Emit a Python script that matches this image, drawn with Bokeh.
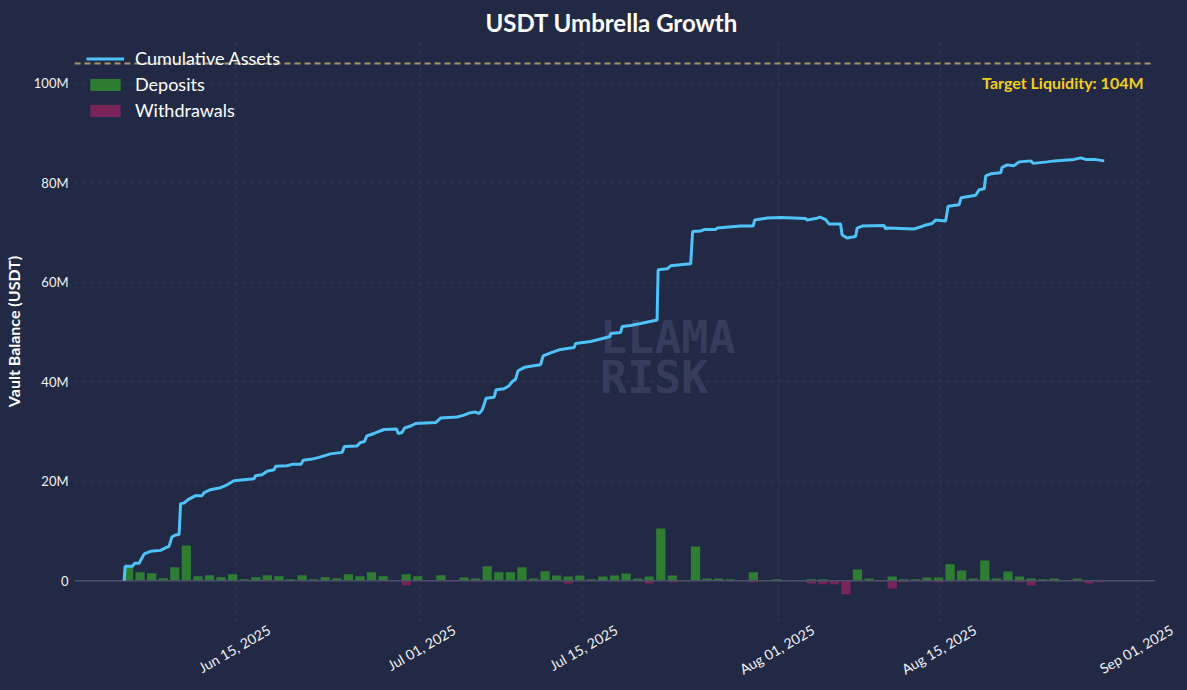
import pandas as pd
from math import pi
from bokeh.plotting import figure
from bokeh.models import Range1d, FixedTicker, Label, Legend, LegendItem
from bokeh.embed import file_html
from bokeh.resources import INLINE

# ---------------- data ----------------
title_text = "USDT Umbrella Growth"
y_axis_title = "Vault Balance (USDT)"
target_liquidity = 104  # millions
target_label = "Target Liquidity: 104M"

line_times = [
    "2025-06-05 10:00", "2025-06-05 12:00", "2025-06-06 03:00", "2025-06-06 07:30", "2025-06-06 17:00",
    "2025-06-07 03:00", "2025-06-07 06:00", "2025-06-07 17:00", "2025-06-08 13:30", "2025-06-08 23:45",
    "2025-06-09 07:00", "2025-06-09 13:00", "2025-06-09 20:30", "2025-06-10 04:00", "2025-06-10 07:00",
    "2025-06-10 14:00", "2025-06-10 22:30", "2025-06-11 14:00", "2025-06-12 03:30", "2025-06-12 07:45",
    "2025-06-12 21:00", "2025-06-13 18:00", "2025-06-14 04:00", "2025-06-14 21:50", "2025-06-15 18:30",
    "2025-06-16 15:20", "2025-06-16 18:30", "2025-06-17 08:00", "2025-06-17 18:30", "2025-06-18 09:00",
    "2025-06-18 12:00", "2025-06-19 11:45", "2025-06-19 22:20", "2025-06-20 16:50", "2025-06-20 21:00",
    "2025-06-21 12:40", "2025-06-22 06:15", "2025-06-23 06:00", "2025-06-24 06:00", "2025-06-24 11:00",
    "2025-06-25 13:00", "2025-06-25 20:25", "2025-06-26 04:30", "2025-06-26 09:00", "2025-06-27 00:15",
    "2025-06-27 21:00", "2025-06-28 23:00", "2025-06-29 02:10", "2025-06-29 10:20", "2025-06-29 15:35",
    "2025-06-30 04:05", "2025-06-30 14:25", "2025-07-02 08:00", "2025-07-02 18:15", "2025-07-04 04:30",
    "2025-07-04 19:00", "2025-07-05 05:15", "2025-07-05 19:00", "2025-07-06 02:10", "2025-07-06 08:25",
    "2025-07-06 12:30", "2025-07-06 16:35", "2025-07-07 09:20", "2025-07-07 13:25", "2025-07-08 06:00",
    "2025-07-08 16:20", "2025-07-08 22:30", "2025-07-09 05:45", "2025-07-09 11:00", "2025-07-10 00:30",
    "2025-07-10 13:00", "2025-07-11 09:35", "2025-07-11 14:55", "2025-07-12 06:30", "2025-07-13 03:10",
    "2025-07-14 07:10", "2025-07-14 10:20", "2025-07-15 17:30", "2025-07-16 14:10", "2025-07-17 09:50",
    "2025-07-17 10:50", "2025-07-18 07:40", "2025-07-18 10:50", "2025-07-19 04:20", "2025-07-20 01:10",
    "2025-07-21 11:15", "2025-07-21 13:25", "2025-07-22 08:10", "2025-07-22 15:20", "2025-07-24 08:55",
    "2025-07-24 13:00", "2025-07-25 05:30", "2025-07-25 12:55", "2025-07-26 12:45", "2025-07-26 15:50",
    "2025-07-28 16:35", "2025-07-29 18:30", "2025-07-29 21:35", "2025-07-30 23:30", "2025-08-01 03:35",
    "2025-08-03 07:25", "2025-08-03 10:35", "2025-08-04 04:05", "2025-08-04 13:25", "2025-08-05 01:00",
    "2025-08-05 08:10", "2025-08-06 07:55", "2025-08-06 11:00", "2025-08-06 21:20", "2025-08-07 15:05",
    "2025-08-07 18:15", "2025-08-08 04:35", "2025-08-10 02:10", "2025-08-10 05:15", "2025-08-10 08:25",
    "2025-08-12 16:35", "2025-08-13 13:10", "2025-08-14 05:45", "2025-08-14 12:55", "2025-08-15 09:50",
    "2025-08-15 14:50", "2025-08-16 13:40", "2025-08-16 18:00", "2025-08-18 00:00", "2025-08-18 07:10",
    "2025-08-18 17:45", "2025-08-18 20:55", "2025-08-19 07:10", "2025-08-20 03:50", "2025-08-20 06:55",
    "2025-08-20 17:15", "2025-08-21 06:55", "2025-08-21 18:15", "2025-08-22 18:15", "2025-08-22 23:30",
    "2025-08-24 04:20", "2025-08-24 19:00", "2025-08-26 12:30", "2025-08-27 01:55", "2025-08-27 12:15",
    "2025-08-28 05:45", "2025-08-29 02:40",
]
line_values = [  # millions USDT
    0.0, 2.9, 2.9, 3.5, 3.5, 5.3, 5.5, 5.9, 6.1, 6.6,
    6.9, 8.8, 9.2, 9.3, 15.5, 15.6, 16.3, 17.1, 17.1, 17.7,
    18.3, 18.7, 19.1, 20.1, 20.3, 20.5, 21.1, 21.3, 22.0, 22.3,
    23.0, 23.1, 23.4, 23.4, 24.2, 24.4, 24.8, 25.5, 25.8, 27.0,
    27.1, 27.8, 28.0, 29.1, 29.6, 30.4, 30.5, 29.6, 29.8, 30.7,
    31.1, 31.6, 31.8, 32.7, 32.9, 33.3, 33.7, 33.9, 33.6, 34.3,
    35.4, 36.7, 36.9, 38.4, 38.6, 39.2, 40.0, 40.5, 42.2, 42.9,
    43.1, 43.4, 45.2, 45.8, 46.5, 46.9, 47.7, 48.1, 48.6, 49.1,
    49.7, 49.9, 51.1, 51.3, 51.7, 52.4, 62.5, 62.7, 63.3, 63.7,
    70.2, 70.3, 70.6, 70.6, 70.9, 71.3, 71.3, 72.5, 72.9, 73.0,
    72.8, 72.5, 72.8, 73.1, 72.6, 71.7, 71.7, 69.5, 68.9, 69.2,
    70.9, 71.3, 71.4, 70.7, 70.9, 70.7, 71.4, 71.8, 72.5, 72.3,
    75.3, 75.6, 77.0, 77.5, 78.6, 78.8, 81.4, 81.8, 82.0, 83.1,
    83.6, 83.4, 84.2, 84.4, 83.9, 84.2, 84.4, 84.7, 85.0, 84.7,
    84.7, 84.4,
]

bar_first_day = "2025-06-06"
deposits = [  # millions USDT, one per day
    2.9, 1.7, 1.5, 0.5, 2.7, 7.1, 0.9, 1.1, 0.7, 1.3,
    0.3, 0.7, 1.1, 0.9, 0.3, 1.1, 0.3, 0.7, 0.5, 1.3,
    0.9, 1.7, 0.9, 0.0, 1.3, 0.9, 0.0, 1.1, 0.0, 0.67,
    0.47, 2.9, 1.7, 1.7, 2.7, 0.47, 1.9, 1.07, 0.87, 1.07,
    0.27, 0.87, 1.07, 1.47, 0.47, 0.87, 10.5, 1.07, 0.0, 6.9,
    0.47, 0.47, 0.27, 0.0, 1.7, 0.0, 0.27, 0.0, 0.0, 0.27,
    0.27, 0.0, 0.0, 2.27, 0.47, 0.0, 0.87, 0.27, 0.27, 0.67,
    0.67, 3.3, 2.07, 0.47, 4.07, 0.47, 1.87, 0.87, 0.47, 0.27,
    0.47, 0.0, 0.47, 0.0, 0.0,
]
withdrawals = [  # millions USDT, one per day
    0, 0, 0, 0, 0, 0, 0, 0, 0, 0,
    0, 0, 0, 0, 0, 0, 0, 0, 0, 0,
    0, 0, -0.12, 0, -0.9, 0, 0, -0.12, -0.12, 0,
    -0.12, 0, 0, 0, 0, 0, 0, 0, -0.54, 0,
    0, 0, 0, 0, -0.12, -0.54, -0.12, -0.33, -0.12, 0,
    0, -0.12, 0, 0, -0.33, 0, -0.12, -0.12, -0.12, -0.54,
    -0.73, -0.73, -2.74, 0, -0.12, -0.12, -1.54, -0.33, -0.12, 0,
    -0.33, -0.12, -0.12, -0.12, -0.12, -0.12, -0.12, -0.33, -0.94, 0,
    -0.12, 0, -0.12, -0.54, -0.33,
]

x_ticks = ["2025-06-15", "2025-07-01", "2025-07-15", "2025-08-01", "2025-08-15", "2025-09-01"]
x_tick_labels = ["Jun 15, 2025", "Jul 01, 2025", "Jul 15, 2025", "Aug 01, 2025", "Aug 15, 2025", "Sep 01, 2025"]
y_ticks = [0, 20, 40, 60, 80, 100]
y_tick_labels = ["0", "20M", "40M", "60M", "80M", "100M"]

# ---------------- styling ----------------
BG = "#222944"
GRID = "#2f3759"
FONT = "Lato"
LINE_C = "#4fc3f7"
DEP_C = "#2e7d32"
WD_C = "#782459"

DAY = 86400000
to_ms = lambda t: int(pd.Timestamp(t).value // 1_000_000)

x_start = to_ms("2025-06-01 03:00")
x_vis_end = to_ms("2025-09-02 09:00")          # visible right edge of the plotting area
x_end = x_vis_end + int(2.5 * DAY)             # extra room so the last rotated label can be drawn
y_start, y_end = -8.4, 108.6

p = figure(width=1187, height=690, x_axis_type="datetime", output_backend="svg",
           toolbar_location=None,
           x_range=Range1d(x_start, x_end), y_range=Range1d(y_start, y_end),
           min_border_left=74, min_border_right=5, min_border_top=40, min_border_bottom=68)
p.background_fill_color = BG
p.border_fill_color = BG
for name in p.properties():
    if name.endswith("line_color") and ("outline" in name or "border" in name):
        setattr(p, name, None)
    if name.endswith("line_alpha") and ("outline" in name or "border" in name):
        setattr(p, name, 0)

p.title.text = title_text
p.title.align = "left"
p.title.offset = 539 - 128   # centre over the visible plotting area
p.title.text_font = FONT
p.title.text_font_size = "24px"
p.title.text_font_style = "bold"
p.title.text_color = "#ffffff"
p.title.vertical_align = "middle"
p.title.standoff = 6

# x axis: rotated labels are anchored at their right end, so the label ticks sit a
# little to the right of the true ticks to centre each label on its grid line
tick_ms = [to_ms(t) for t in x_ticks]
label_shift = int(2.94 * DAY)
label_ms = [t + label_shift for t in tick_ms]
xax = p.xaxis[0]
xax.ticker = FixedTicker(ticks=label_ms)
xax.major_label_overrides = {t: s for t, s in zip(label_ms, x_tick_labels)}
xax.major_label_orientation = pi / 6
xax.axis_line_color = None
xax.major_tick_line_color = None
xax.minor_tick_line_color = None
xax.major_tick_out = 0
xax.major_tick_in = 0
xax.major_label_standoff = 6
xax.major_label_text_font = FONT
xax.major_label_text_font_size = "14px"
xax.major_label_text_color = "#f2f2f2"
p.xgrid.ticker = FixedTicker(ticks=tick_ms)
p.xgrid.grid_line_color = GRID
p.xgrid.grid_line_dash = "4 4"

yax = p.yaxis[0]
yax.ticker = FixedTicker(ticks=y_ticks)
yax.major_label_overrides = {t: s for t, s in zip(y_ticks, y_tick_labels)}
yax.axis_line_color = None
yax.major_tick_line_color = None
yax.minor_tick_line_color = None
yax.major_tick_out = 0
yax.major_tick_in = 0
yax.major_label_text_font = FONT
yax.major_label_text_font_size = "13px"
yax.major_label_text_color = "#f2f2f2"
yax.major_label_standoff = 6
yax.axis_label = y_axis_title
yax.axis_label_text_font = FONT
yax.axis_label_text_font_size = "16px"
yax.axis_label_text_font_style = "bold"
yax.axis_label_text_color = "#ffffff"
yax.axis_label_standoff = 8
p.ygrid.visible = False

# horizontal grid lines, limited to the visible plotting area
p.segment(x0=[x_start] * len(y_ticks), x1=[x_vis_end] * len(y_ticks), y0=y_ticks, y1=y_ticks,
          line_color=GRID, line_width=1, line_dash="4 4", level="underlay")

# watermark (behind data)
for txt, yv in (("LLAMA", 48.9), ("RISK", 40.9)):
    p.add_layout(Label(x=to_ms("2025-07-16 13:00"), y=yv, text=txt, text_font="DejaVu Sans Mono",
                       text_font_size="45px", text_font_style="bold", text_color="#353c5c",
                       text_align="left", text_baseline="middle", level="underlay"))

# bars
bar_days = pd.date_range(bar_first_day, periods=len(deposits), freq="D")
bar_x = bar_days - pd.Timedelta(hours=5)
bar_w = 0.8 * DAY
dep_r = p.vbar(x=bar_x, top=deposits, bottom=0, width=bar_w, fill_color=DEP_C, line_color=None)
wd_r = p.vbar(x=bar_x, top=0, bottom=withdrawals, width=bar_w, fill_color=WD_C, line_color=None)

# zero line and target line
p.segment(x0=[x_start], x1=[x_vis_end + int(0.15 * DAY)], y0=[0], y1=[0],
          line_color="#4b5169", line_width=1.5)
p.segment(x0=[x_start], x1=[x_vis_end], y0=[target_liquidity], y1=[target_liquidity],
          line_color="#a89668", line_width=2, line_dash="6 4")
p.add_layout(Label(x=x_vis_end, y=target_liquidity, x_offset=-10, y_offset=-19,
                   text=target_label, text_font=FONT, text_font_size="16px",
                   text_font_style="bold", text_color="#f2cf1d",
                   text_align="right", text_baseline="middle"))

# cumulative line
line_r = p.line(x=pd.to_datetime(line_times), y=line_values, line_color=LINE_C, line_width=3)

legend = Legend(items=[LegendItem(label="Cumulative Assets", renderers=[line_r]),
                       LegendItem(label="Deposits", renderers=[dep_r]),
                       LegendItem(label="Withdrawals", renderers=[wd_r])],
                location=(12, 501), margin=0, padding=0, spacing=4,
                glyph_width=38, glyph_height=15, label_height=20, label_standoff=11,
                label_text_font=FONT, label_text_font_size="18px", label_text_color="#ffffff",
                background_fill_alpha=0, border_line_color=None)
p.add_layout(legend)

html = file_html(p, INLINE)
page_css = "<style>html, body {margin:0; padding:0; background:%s !important;}</style>" % BG
html = html.replace("</head>", page_css + "</head>", 1)
open("out.html", "w").write(html)
